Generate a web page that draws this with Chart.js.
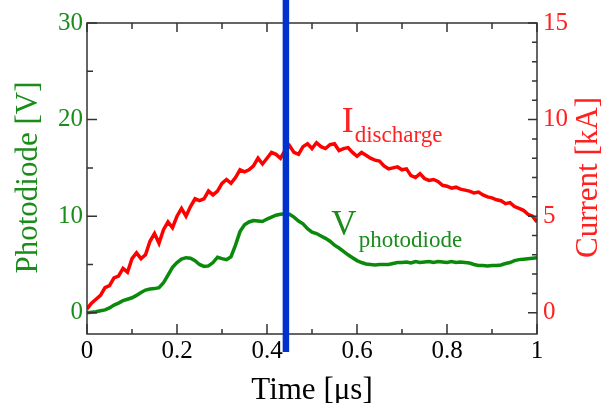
<!DOCTYPE html>
<html><head><meta charset="utf-8">
<script src="https://cdn.jsdelivr.net/npm/chart.js@4.4.0/dist/chart.umd.min.js"></script>
<style>html,body{margin:0;padding:0;background:#fff;}#wrap{width:602px;height:403px;}</style>
</head><body><div id="wrap"><canvas id="c" width="602" height="403"></canvas></div>
<script>
const time = [0,0.01,0.02,0.03,0.04,0.05,0.06,0.07,0.08,0.09,0.1,0.11,0.12,0.13,0.14,0.15,0.16,0.17,0.18,0.19,0.2,0.21,0.22,0.23,0.24,0.25,0.26,0.27,0.28,0.29,0.3,0.31,0.32,0.33,0.34,0.35,0.36,0.37,0.38,0.39,0.4,0.41,0.42,0.43,0.44,0.45,0.46,0.47,0.48,0.49,0.5,0.51,0.52,0.53,0.54,0.55,0.56,0.57,0.58,0.59,0.6,0.61,0.62,0.63,0.64,0.65,0.66,0.67,0.68,0.69,0.7,0.71,0.72,0.73,0.74,0.75,0.76,0.77,0.78,0.79,0.8,0.81,0.82,0.83,0.84,0.85,0.86,0.87,0.88,0.89,0.9,0.91,0.92,0.93,0.94,0.95,0.96,0.97,0.98,0.99,1];
const current = [0.2,0.5,0.7,0.9,1.3,1.4,1.8,1.9,2.3,2.1,2.8,3.1,2.8,3.0,3.7,4.1,3.6,4.3,4.7,4.4,5.0,5.4,5.0,5.5,5.9,5.8,5.9,6.3,6.1,6.3,6.7,6.9,6.7,7.0,7.4,7.3,7.4,7.6,8.0,7.7,8.0,8.3,8.2,8.0,8.4,8.65,8.3,8.2,8.6,8.75,8.5,8.8,8.6,8.5,8.7,8.75,8.4,8.5,8.55,8.3,8.1,8.3,8.15,8.0,7.9,7.85,7.6,7.45,7.5,7.55,7.4,7.45,7.1,7.0,7.2,6.95,6.85,6.9,6.8,6.6,6.55,6.45,6.5,6.4,6.35,6.3,6.2,6.25,6.1,6.0,5.95,5.85,5.8,5.65,5.7,5.5,5.4,5.3,5.1,5.0,4.7];
const photodiode = [0.0,0.05,0.1,0.2,0.3,0.5,0.8,1.0,1.25,1.4,1.55,1.8,2.1,2.35,2.45,2.5,2.6,3.1,3.9,4.7,5.2,5.55,5.7,5.65,5.4,5.0,4.8,4.85,5.2,5.75,5.6,5.5,5.8,7.0,8.4,9.1,9.4,9.55,9.5,9.45,9.7,9.9,10.1,10.2,10.25,10.2,9.9,9.5,9.2,8.7,8.35,8.2,7.95,7.7,7.4,7.0,6.7,6.35,6.0,5.7,5.4,5.2,5.05,5.0,4.95,5.0,5.0,5.0,5.1,5.2,5.2,5.25,5.15,5.3,5.2,5.25,5.3,5.2,5.3,5.25,5.2,5.3,5.2,5.25,5.2,5.15,5.0,4.9,4.9,4.85,4.9,4.9,4.95,5.1,5.2,5.4,5.5,5.55,5.6,5.65,5.7];
const xTicks = [0,0.2,0.4,0.6,0.8,1];
const xTickLabels = ['0','0.2','0.4','0.6','0.8','1'];
const xMinor = [0.1,0.3,0.5,0.7,0.9];
const leftTicks = [0,10,20,30];
const leftTickLabels = ['0','10','20','30'];
const leftMinor = [5,15,25];
const rightTicks = [0,5,10,15];
const rightTickLabels = ['0','5','10','15'];
const rightMinor = [1,2,3,4,6,7,8,9,11,12,13,14];
const markerTime = 0.442;

const GREEN = '#0a8a0a', RED = '#ff0000', TGREEN = '#1a8c1a', TRED = '#ff2020', BLUE = '#0033cc';
const FONT = '"Liberation Serif", "Times New Roman", serif';

const deco = {
  id: 'deco',
  afterDatasetsDraw(chart) {
    const {ctx, chartArea: a, scales} = chart;
    const sx = scales.x, sl = scales.y, sr = scales.y1;
    ctx.save();
    ctx.strokeStyle = '#333'; ctx.lineWidth = 1.5;
    ctx.strokeRect(a.left, a.top, a.right - a.left, a.bottom - a.top);
    ctx.beginPath();
    const seg = (x0, y0, x1, y1) => { ctx.moveTo(x0, y0); ctx.lineTo(x1, y1); };
    xTicks.forEach(v => { const p = sx.getPixelForValue(v); seg(p, a.bottom, p, a.bottom - 10); seg(p, a.top, p, a.top + 9); });
    xMinor.forEach(v => { const p = sx.getPixelForValue(v); seg(p, a.bottom, p, a.bottom - 5); seg(p, a.top, p, a.top + 6); });
    leftTicks.forEach(v => { const p = sl.getPixelForValue(v); seg(a.left, p, a.left + 10, p); });
    leftMinor.forEach(v => { const p = sl.getPixelForValue(v); seg(a.left, p, a.left + 6, p); });
    rightTicks.forEach(v => { const p = sr.getPixelForValue(v); seg(a.right, p, a.right - 9, p); });
    rightMinor.forEach(v => { const p = sr.getPixelForValue(v); seg(a.right, p, a.right - 5, p); });
    ctx.stroke();

    // axis titles
    ctx.font = '31px ' + FONT;
    ctx.textBaseline = 'alphabetic'; ctx.textAlign = 'center';
    ctx.fillStyle = '#000';
    ctx.fillText('Time [\u03bcs]', (a.left + a.right) / 2, a.bottom + 65);
    const cy = (a.top + a.bottom) / 2 - 1;
    ctx.save(); ctx.translate(37, cy); ctx.rotate(-Math.PI / 2);
    ctx.fillStyle = TGREEN; ctx.fillText('Photodiode [V]', 0, 0); ctx.restore();
    ctx.save(); ctx.translate(597, cy); ctx.rotate(-Math.PI / 2);
    ctx.fillStyle = TRED; ctx.fillText('Current [kA]', 0, 0); ctx.restore();

    // curve labels
    ctx.textAlign = 'left';
    let px = sx.getPixelForValue(0.566), py = sr.getPixelForValue(9.36);
    ctx.fillStyle = TRED;
    ctx.font = '36px ' + FONT; ctx.fillText('I', px, py);
    let w = ctx.measureText('I').width;
    ctx.font = '23px ' + FONT; ctx.fillText('discharge', px + w + 1, py + 10);
    px = sx.getPixelForValue(0.543); py = sl.getPixelForValue(8.05);
    ctx.fillStyle = TGREEN;
    ctx.font = '35px ' + FONT; ctx.fillText('V', px, py);
    w = ctx.measureText('V').width;
    ctx.font = '23px ' + FONT; ctx.fillText('photodiode', px + w + 2, py + 12);

    // marker line
    const mx = sx.getPixelForValue(markerTime);
    ctx.fillStyle = BLUE;
    ctx.fillRect(mx - 3.25, 0, 6.5, a.bottom + 18);
    ctx.restore();
  }
};

const tickFont = {family: FONT, size: 25};
new Chart(document.getElementById('c'), {
  type: 'line',
  data: {
    datasets: [
      {label: 'Current', data: time.map((t, i) => ({x: t, y: current[i]})), yAxisID: 'y1', borderColor: RED, borderWidth: 3.5, pointRadius: 0, tension: 0},
      {label: 'Photodiode', data: time.map((t, i) => ({x: t, y: photodiode[i]})), yAxisID: 'y', borderColor: GREEN, borderWidth: 3.5, pointRadius: 0, tension: 0}
    ]
  },
  options: {
    responsive: false, animation: false, devicePixelRatio: 1,
    layout: {padding: {top: 23, left: 0, right: 0, bottom: 0}},
    plugins: {legend: {display: false}, tooltip: {enabled: false}},
    scales: {
      x: {type: 'linear', position: 'bottom', min: 0, max: 1,
        afterBuildTicks: s => { s.ticks = xTicks.map(v => ({value: v})); },
        afterFit: s => { s.height = 69; },
        ticks: {callback: (v, i) => xTickLabels[i], font: tickFont, color: '#000', padding: 2, maxRotation: 0, autoSkip: false},
        grid: {display: false, drawTicks: false}, border: {display: false}},
      y: {type: 'linear', position: 'left', min: -2.2, max: 30,
        afterBuildTicks: s => { s.ticks = leftTicks.map(v => ({value: v})); },
        afterFit: s => { s.width = 87; },
        ticks: {callback: (v, i) => leftTickLabels[i], font: tickFont, color: TGREEN, padding: 4, autoSkip: false},
        grid: {display: false, drawTicks: false}, border: {display: false}},
      y1: {type: 'linear', position: 'right', min: -1.1, max: 15,
        afterBuildTicks: s => { s.ticks = rightTicks.map(v => ({value: v})); },
        afterFit: s => { s.width = 65; },
        ticks: {callback: (v, i) => rightTickLabels[i], font: tickFont, color: TRED, padding: 6, autoSkip: false},
        grid: {display: false, drawTicks: false}, border: {display: false}}
    }
  },
  plugins: [deco]
});
</script></body></html>
